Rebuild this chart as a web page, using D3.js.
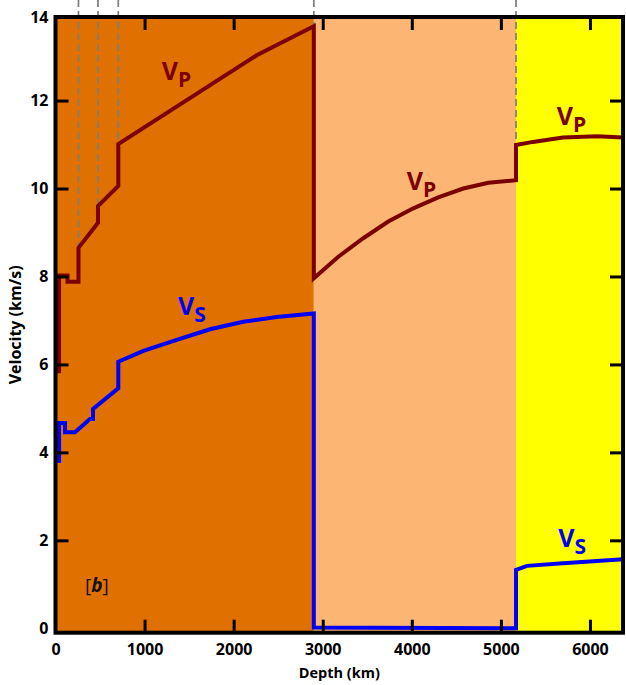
<!DOCTYPE html>
<html>
<head>
<meta charset="utf-8">
<script src="https://cdn.jsdelivr.net/npm/d3@7"></script>
<style>
  html, body { margin: 0; padding: 0; background: #fff; }
  svg { display: block; font-family: "Open Sans", "Noto Sans", sans-serif; }
</style>
</head>
<body>
<svg id="chart" width="626" height="685"></svg>
<script>
// Earth's shells along the depth axis (km)
const layerNames = ["Mantle", "Outer core", "Inner core"];
const layerTops = [0, 2900, 5170];
const layerBottoms = [2900, 5170, 6371];
const layerColors = ["#E07000", "#FCB573", "#FFFF00"];

// Discontinuities marked by dashed guides, each ending at the Vp value just below it
const boundaryDepths = [258, 477, 705, 2900, 5170];
const boundaryVp = [8.65, 9.60, 11.01, 13.69, 10.99];

// P-wave velocity profile: depth (km) and velocity (km/s)
const vpDepth = [40, 40, 135, 135, 258, 258, 477, 477, 705, 705, 2259, 2900,
                 2900, 3175, 3455, 3736, 4017, 4297, 4578, 4859, 5170,
                 5170, 5360, 5697, 6079, 6371];
const vpValue = [5.80, 8.02, 8.02, 7.88, 7.88, 8.65, 9.22, 9.60, 10.06, 11.01, 13.03, 13.69,
                 7.96, 8.45, 8.87, 9.25, 9.55, 9.80, 10.00, 10.13, 10.19,
                 10.99, 11.06, 11.16, 11.19, 11.16];

// S-wave velocity profile: depth (km) and velocity (km/s)
const vsDepth = [40, 40, 107, 107, 219, 387, 421, 421, 705, 705, 986, 1361, 1734, 2108, 2483, 2900,
                 2900, 5170,
                 5170, 5293, 5697, 6079, 6371];
const vsValue = [3.76, 4.67, 4.67, 4.46, 4.46, 4.76, 4.76, 4.99, 5.46, 6.06, 6.31, 6.56, 6.80, 6.97, 7.08, 7.16,
                 0.02, 0.00,
                 1.33, 1.42, 1.48, 1.53, 1.57];

// Axis ticks
const depthTicks = [0, 1000, 2000, 3000, 4000, 5000, 6000];
const velocityTicks = [0, 2, 4, 6, 8, 10, 12, 14];

// Curve labels: wave type, anchor depth (km), anchor velocity (km/s)
const labelWave = ["P", "P", "P", "S", "S"];
const labelDepth = [1192, 3942, 5626, 1375, 5644];
const labelVelocity = [12.47, 9.97, 11.44, 7.12, 1.86];

const VP_COLOR = "#7A0000";
const VS_COLOR = "#0000F5";
const FONT = "'Open Sans', 'Noto Sans', sans-serif";

const svg = d3.select("#chart");

const x = d3.scaleLinear().domain([0, 6371]).range([55.5, 623]);
const y = d3.scaleLinear().domain([-0.1, 13.9]).range([632.7, 17]).clamp(true);

const [x0, x1] = x.range();
const [yBottom, yTop] = y.range();

// Shell backgrounds
svg.append("g").selectAll("rect")
  .data(layerNames.map((name, i) => ({ name, top: layerTops[i], bottom: layerBottoms[i], color: layerColors[i] })))
  .join("rect")
  .attr("x", d => x(d.top))
  .attr("y", yTop)
  .attr("width", d => x(d.bottom) - x(d.top))
  .attr("height", yBottom - yTop)
  .attr("fill", d => d.color);

// Dashed guides at the discontinuities
svg.append("g").selectAll("line")
  .data(boundaryDepths.map((d, i) => ({ depth: d, vp: boundaryVp[i] })))
  .join("line")
  .attr("x1", d => x(d.depth)).attr("x2", d => x(d.depth))
  .attr("y1", 0).attr("y2", d => y(d.vp))
  .attr("stroke", "#7d7d7d")
  .attr("stroke-width", 1.7)
  .attr("stroke-dasharray", "7,4");

// Velocity curves
const line = d3.line().x(d => x(d[0])).y(d => y(d[1]));
const vpPoints = vpDepth.map((d, i) => [d, vpValue[i]]);
const vsPoints = vsDepth.map((d, i) => [d, vsValue[i]]);

svg.append("path").datum(vpPoints)
  .attr("d", line).attr("fill", "none")
  .attr("stroke", VP_COLOR).attr("stroke-width", 4)
  .attr("stroke-linejoin", "miter").attr("stroke-miterlimit", 4);

svg.append("path").datum(vsPoints)
  .attr("d", line).attr("fill", "none")
  .attr("stroke", VS_COLOR).attr("stroke-width", 4)
  .attr("stroke-linejoin", "miter").attr("stroke-miterlimit", 4);

// Axes with inward ticks on all four sides
function styleAxis(g) {
  g.select(".domain").remove();
  g.selectAll(".tick line").attr("stroke", "#000").attr("stroke-width", 3);
  g.attr("font-family", FONT).attr("font-size", 16).attr("font-weight", 700);
  g.selectAll(".tick text").attr("fill", "#000");
}

svg.append("g")
  .attr("transform", `translate(${x0},0)`)
  .call(d3.axisLeft(y).tickValues(velocityTicks).tickFormat(d3.format("d"))
    .tickSize(-13).tickSizeOuter(0).tickPadding(7))
  .call(styleAxis)
  .call(g => g.selectAll(".tick").filter(d => d === 0 || d === 14).select("line").remove());

svg.append("g")
  .attr("transform", `translate(${x1},0)`)
  .call(d3.axisRight(y).tickValues(velocityTicks.filter(v => v > 0 && v < 14))
    .tickSize(-13).tickSizeOuter(0).tickFormat(""))
  .call(styleAxis);

svg.append("g")
  .attr("transform", `translate(0,${yBottom})`)
  .call(d3.axisBottom(x).tickValues(depthTicks).tickFormat(d3.format("d"))
    .tickSize(-13).tickSizeOuter(0).tickPadding(11))
  .call(styleAxis)
  .call(g => g.selectAll(".tick").filter(d => d === 0).select("line").remove());

svg.append("g")
  .attr("transform", `translate(0,${yTop})`)
  .call(d3.axisTop(x).tickValues(depthTicks.filter(d => d > 0))
    .tickSize(-13).tickSizeOuter(0).tickFormat(""))
  .call(styleAxis);

// Plot frame
svg.append("rect")
  .attr("x", x0).attr("y", yTop)
  .attr("width", x1 - x0).attr("height", yBottom - yTop)
  .attr("fill", "none").attr("stroke", "#000").attr("stroke-width", 4);

// Axis titles
svg.append("text")
  .attr("x", (x0 + x1) / 2).attr("y", 678)
  .attr("text-anchor", "middle")
  .attr("font-size", 14.5).attr("font-weight", 700)
  .text("Depth (km)");

svg.append("text")
  .attr("transform", `translate(21,${(yTop + yBottom) / 2}) rotate(-90)`)
  .attr("text-anchor", "middle")
  .attr("font-size", 16).attr("font-weight", 700)
  .text("Velocity (km/s)");

// V_P / V_S curve labels
const labels = svg.append("g").selectAll("text")
  .data(labelWave.map((w, i) => ({ wave: w, depth: labelDepth[i], v: labelVelocity[i] })))
  .join("text")
  .attr("x", d => x(d.depth))
  .attr("y", d => y(d.v))
  .attr("font-weight", 700)
  .attr("fill", d => d.wave === "P" ? VP_COLOR : VS_COLOR);
labels.append("tspan").attr("font-size", 25).text("V");
labels.append("tspan").attr("font-size", 21).attr("dy", 7).text(d => d.wave);

// Panel tag
const tag = svg.append("text")
  .attr("x", x(331)).attr("y", y(0.83))
  .attr("font-size", 19).attr("fill", "#111");
tag.append("tspan").text("[");
tag.append("tspan").attr("font-weight", 700).attr("font-style", "italic").text("b");
tag.append("tspan").text("]");
</script>
</body>
</html>
